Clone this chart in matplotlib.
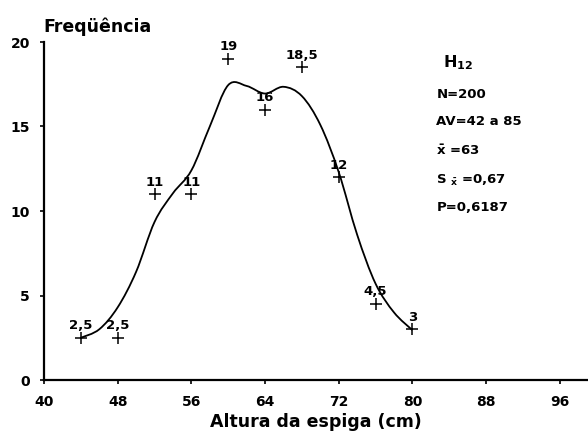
import numpy as np
import matplotlib
matplotlib.use('Agg')
import matplotlib.pyplot as plt
from matplotlib.path import Path
from matplotlib.patches import PathPatch

plt.rcParams['font.family'] = ['DejaVu Sans']
plt.rcParams['font.weight'] = 'bold'
plt.rcParams['mathtext.fontset'] = 'dejavusans'
plt.rcParams['mathtext.default'] = 'bf'

# class midpoints (cm) and observed frequency (%)
altura = [44, 48, 52, 56, 60, 64, 68, 72, 76, 80]
freq = [2.5, 2.5, 11, 11, 19, 16, 18.5, 12, 4.5, 3]
freq_labels = ['2,5', '2,5', '11', '11', '19', '16', '18,5', '12', '4,5', '3']

# hand-drawn smoothed curve, knots every 2 cm
curve_x = [44, 46, 48, 50, 52, 54, 56, 58, 60, 62, 64, 66, 68, 70,
           72, 74, 76, 78, 80]
curve_y = [2.5, 3.0, 4.3, 6.4, 9.35, 11.05, 12.4, 15.0, 17.45, 17.4,
           16.95, 17.35, 16.8, 15.1, 12.3, 8.6, 5.7, 4.0, 2.95]

x_ticks = [40, 48, 56, 64, 72, 80, 88, 96]
y_ticks = [0, 5, 10, 15, 20]

stats = ['N=200', 'AV=42 a 85', r'$\bar{x}$ =63', r'S $_{\bar{x}}$ =0,67', 'P=0,6187']


def smooth_path(xs, ys):
    # Catmull-Rom knots turned into cubic Bezier segments
    pts = np.column_stack([xs, ys])
    pts = np.vstack([pts[0], pts, pts[-1]])
    verts = [pts[1]]
    codes = [Path.MOVETO]
    for i in range(1, len(pts) - 2):
        p0, p1, p2, p3 = pts[i - 1], pts[i], pts[i + 1], pts[i + 2]
        c1 = p1 + (p2 - p0) / 6
        c2 = p2 - (p3 - p1) / 6
        verts += [c1, c2, p2]
        codes += [Path.CURVE4] * 3
    return Path(verts, codes)


fig = plt.figure(figsize=(5.88, 4.36), dpi=100)
ax = fig.add_axes([44 / 588, 1 - 380 / 436, 544 / 588, 338 / 436])
ax.set_xlim(40, 40 + 544 / 9.21)
ax.set_ylim(0, 20)

ax.add_patch(PathPatch(smooth_path(curve_x, curve_y), facecolor='none',
                       edgecolor='black', linewidth=1.3))
ax.plot(altura, freq, linestyle='none', marker='+', color='black',
        markersize=9, markeredgewidth=1.1)
for x, y, lab in zip(altura, freq, freq_labels):
    ax.annotate(lab, (x, y), xytext=(0, 4), textcoords='offset points',
                ha='center', va='bottom', fontsize=9.5, fontweight='bold')

for side in ['top', 'right']:
    ax.spines[side].set_visible(False)
for side in ['left', 'bottom']:
    ax.spines[side].set_linewidth(1.6)

ax.set_xticks(x_ticks)
ax.set_yticks(y_ticks)
ax.tick_params(axis='both', direction='out', length=3, width=1.2,
               labelsize=10)
ax.tick_params(axis='x', pad=8)
ax.tick_params(axis='y', pad=7)
for lab in ax.get_xticklabels() + ax.get_yticklabels():
    lab.set_fontweight('bold')

ax.set_xlabel('Altura da espiga (cm)', fontsize=12.5, fontweight='bold',
              labelpad=3)
fig.text(43 / 588, 1 - 32 / 436, 'Freqüência', fontsize=12.5,
         fontweight='bold', ha='left', va='baseline')

ax.text(83.3, 18.8, r'H$_{12}$', fontsize=11.5, fontweight='bold',
        ha='left', va='center')
stat_y = [16.9, 15.3, 13.55, 11.8, 10.2]
for s, y in zip(stats, stat_y):
    ax.text(82.6, y, s, fontsize=9.5, fontweight='bold', ha='left',
            va='center')

fig.savefig('out.png', dpi=100)
